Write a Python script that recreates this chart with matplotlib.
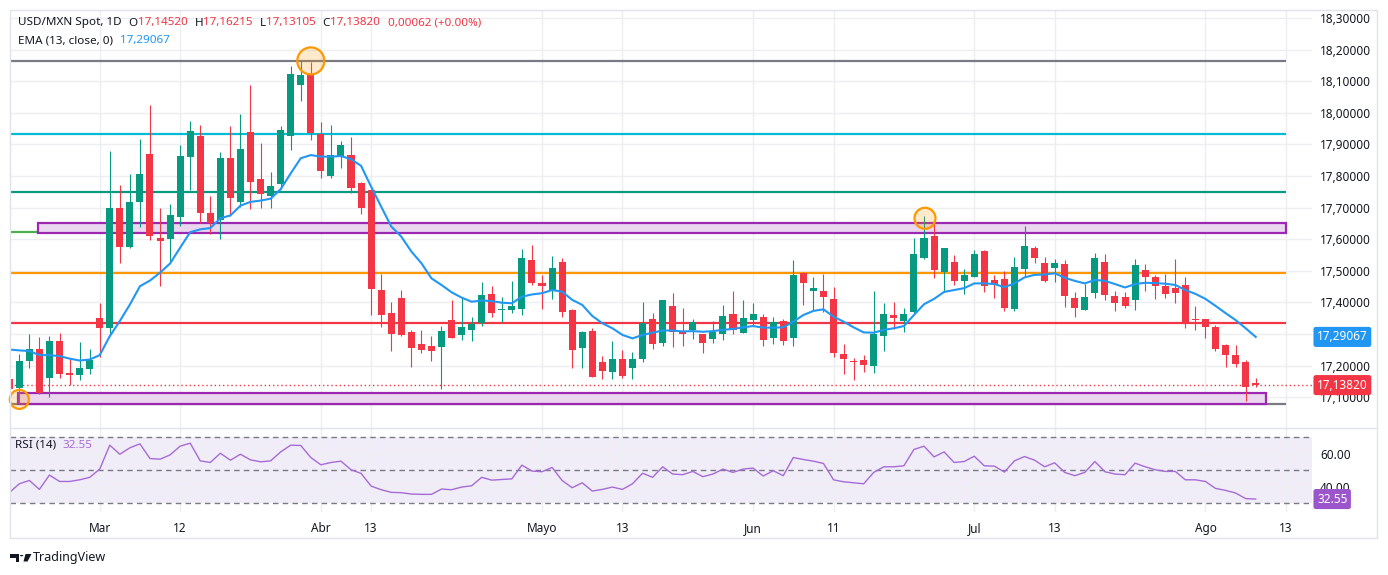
import numpy as np
import matplotlib
matplotlib.use("Agg")
import matplotlib.pyplot as plt
import matplotlib.transforms as mtrans
from matplotlib.ticker import FuncFormatter
from matplotlib.patches import Rectangle, Polygon, Circle
from matplotlib.lines import Line2D

plt.rcParams['font.family'] = ['Noto Sans', 'DejaVu Sans']

# daily candles USD/MXN
opens = [17.158, 17.128, 17.214, 17.254, 17.160, 17.279, 17.175, 17.170, 17.190, 17.349,
         17.319, 17.697, 17.575, 17.717, 17.868, 17.605, 17.600, 17.670, 17.860, 17.925,
         17.684, 17.661, 17.857, 17.718, 17.939, 17.790, 17.735, 17.775, 17.927, 18.088,
         18.120, 17.933, 17.800, 17.863, 17.866, 17.778, 17.756, 17.439, 17.365, 17.414,
         17.306, 17.268, 17.262, 17.260, 17.344, 17.298, 17.311, 17.336, 17.427, 17.377,
         17.376, 17.380, 17.534, 17.461, 17.436, 17.528, 17.376, 17.257, 17.309, 17.211,
         17.181, 17.221, 17.193, 17.222, 17.347, 17.273, 17.389, 17.309, 17.311, 17.301,
         17.285, 17.301, 17.363, 17.304, 17.344, 17.354, 17.288, 17.341, 17.288, 17.493,
         17.437, 17.436, 17.411, 17.237, 17.216, 17.218, 17.200, 17.295, 17.360, 17.342,
         17.368, 17.541, 17.610, 17.496, 17.528, 17.468, 17.480, 17.563, 17.471, 17.474,
         17.379, 17.506, 17.572, 17.525, 17.509, 17.522, 17.414, 17.377, 17.431, 17.528,
         17.420, 17.417, 17.409, 17.503, 17.480, 17.453, 17.446, 17.455, 17.347, 17.347,
         17.322, 17.265, 17.234, 17.211, 17.14520]
highs = [17.160, 17.238, 17.299, 17.290, 17.292, 17.302, 17.221, 17.276, 17.251, 17.399,
         17.878, 17.772, 17.807, 17.918, 18.026, 17.697, 17.710, 17.897, 17.973, 17.961,
         17.738, 17.876, 17.958, 17.996, 18.088, 17.904, 17.813, 17.958, 18.148, 18.164,
         18.162, 17.971, 17.961, 17.911, 17.923, 17.780, 17.758, 17.490, 17.401, 17.439,
         17.313, 17.313, 17.294, 17.324, 17.408, 17.413, 17.354, 17.465, 17.452, 17.417,
         17.468, 17.569, 17.582, 17.485, 17.547, 17.541, 17.379, 17.309, 17.319, 17.230,
         17.278, 17.249, 17.243, 17.401, 17.366, 17.408, 17.430, 17.382, 17.347, 17.301,
         17.341, 17.392, 17.436, 17.408, 17.398, 17.363, 17.354, 17.347, 17.534, 17.496,
         17.480, 17.490, 17.449, 17.268, 17.224, 17.234, 17.437, 17.398, 17.401, 17.382,
         17.604, 17.673, 17.654, 17.572, 17.550, 17.506, 17.566, 17.566, 17.487, 17.499,
         17.544, 17.642, 17.579, 17.544, 17.537, 17.534, 17.433, 17.458, 17.556, 17.553,
         17.436, 17.433, 17.537, 17.522, 17.487, 17.490, 17.537, 17.480, 17.389, 17.347,
         17.328, 17.269, 17.265, 17.218, 17.16215]
lows = [17.124, 17.082, 17.193, 17.109, 17.101, 17.160, 17.138, 17.154, 17.172, 17.228,
        17.293, 17.525, 17.571, 17.639, 17.597, 17.451, 17.525, 17.641, 17.755, 17.652,
        17.615, 17.601, 17.673, 17.703, 17.694, 17.700, 17.697, 17.758, 17.882, 18.037,
        17.914, 17.795, 17.795, 17.826, 17.747, 17.681, 17.359, 17.323, 17.247, 17.292,
        17.197, 17.241, 17.216, 17.125, 17.286, 17.281, 17.278, 17.325, 17.353, 17.339,
        17.367, 17.361, 17.455, 17.379, 17.411, 17.355, 17.193, 17.193, 17.165, 17.159,
        17.159, 17.162, 17.159, 17.212, 17.254, 17.263, 17.260, 17.263, 17.285, 17.241,
        17.273, 17.282, 17.301, 17.304, 17.328, 17.263, 17.269, 17.266, 17.263, 17.393,
        17.374, 17.371, 17.228, 17.174, 17.154, 17.180, 17.178, 17.246, 17.317, 17.307,
        17.365, 17.537, 17.477, 17.433, 17.455, 17.428, 17.480, 17.433, 17.414, 17.373,
        17.373, 17.484, 17.525, 17.465, 17.465, 17.385, 17.355, 17.377, 17.415, 17.406,
        17.374, 17.383, 17.377, 17.437, 17.412, 17.415, 17.399, 17.320, 17.311, 17.288,
        17.247, 17.197, 17.197, 17.089, 17.13105]
closes = [17.126, 17.216, 17.254, 17.114, 17.279, 17.172, 17.170, 17.191, 17.219, 17.319,
          17.697, 17.575, 17.718, 17.805, 17.610, 17.594, 17.677, 17.862, 17.941, 17.684,
          17.652, 17.857, 17.731, 17.885, 17.782, 17.742, 17.768, 17.946, 18.123, 18.120,
          17.936, 17.817, 17.866, 17.898, 17.763, 17.697, 17.441, 17.361, 17.299, 17.297,
          17.257, 17.249, 17.247, 17.309, 17.288, 17.322, 17.333, 17.423, 17.367, 17.379,
          17.389, 17.541, 17.461, 17.453, 17.509, 17.370, 17.249, 17.306, 17.165, 17.184,
          17.221, 17.167, 17.221, 17.335, 17.269, 17.408, 17.307, 17.301, 17.338, 17.273,
          17.307, 17.357, 17.313, 17.351, 17.363, 17.282, 17.338, 17.279, 17.487, 17.462,
          17.446, 17.418, 17.241, 17.222, 17.212, 17.203, 17.300, 17.363, 17.352, 17.363,
          17.553, 17.604, 17.503, 17.572, 17.468, 17.487, 17.553, 17.452, 17.459, 17.382,
          17.512, 17.579, 17.541, 17.468, 17.525, 17.420, 17.383, 17.417, 17.541, 17.424,
          17.399, 17.390, 17.518, 17.481, 17.453, 17.428, 17.431, 17.336, 17.344, 17.323,
          17.254, 17.232, 17.206, 17.133, 17.13820]
ema13 = [17.251, 17.248, 17.246, 17.233, 17.233, 17.230, 17.222, 17.216, 17.219, 17.233,
         17.293, 17.341, 17.393, 17.451, 17.469, 17.494, 17.523, 17.573, 17.622, 17.631,
         17.635, 17.666, 17.675, 17.706, 17.718, 17.722, 17.728, 17.758, 17.808, 17.856,
         17.866, 17.861, 17.861, 17.863, 17.853, 17.832, 17.766, 17.703, 17.640, 17.608,
         17.561, 17.524, 17.476, 17.455, 17.432, 17.415, 17.402, 17.406, 17.404, 17.399,
         17.397, 17.418, 17.425, 17.429, 17.439, 17.434, 17.408, 17.392, 17.357, 17.334,
         17.318, 17.297, 17.286, 17.297, 17.304, 17.311, 17.311, 17.308, 17.309, 17.307,
         17.309, 17.313, 17.316, 17.321, 17.325, 17.320, 17.320, 17.321, 17.339, 17.360,
         17.373, 17.378, 17.355, 17.339, 17.321, 17.305, 17.304, 17.313, 17.318, 17.325,
         17.360, 17.394, 17.411, 17.433, 17.439, 17.445, 17.460, 17.460, 17.458, 17.448,
         17.460, 17.479, 17.487, 17.488, 17.492, 17.478, 17.468, 17.460, 17.471, 17.468,
         17.458, 17.447, 17.458, 17.462, 17.461, 17.459, 17.455, 17.439, 17.427, 17.411,
         17.389, 17.366, 17.344, 17.318, 17.29067]
rsi14 = [36.4, 41.8, 43.8, 38.4, 47.1, 43.2, 43.2, 44.2, 45.7, 50.7,
         65.2, 59.7, 63.6, 66.0, 57.1, 56.7, 59.3, 64.6, 66.4, 55.7,
         54.7, 60.3, 56.1, 59.7, 56.3, 55.1, 55.7, 61.1, 65.2, 65.0,
         57.7, 53.3, 54.7, 55.5, 50.3, 48.1, 40.4, 38.2, 36.6, 36.4,
         35.6, 35.4, 35.4, 38.6, 38.2, 39.8, 40.6, 45.7, 44.0, 44.4,
         44.8, 53.1, 49.5, 49.1, 51.7, 43.8, 39.4, 42.4, 37.4, 38.4,
         39.8, 38.4, 41.8, 48.2, 45.7, 52.1, 47.7, 47.3, 49.3, 46.1,
         47.7, 50.7, 48.7, 50.7, 51.3, 46.5, 49.7, 46.7, 57.7, 56.5,
         55.5, 54.1, 44.2, 43.0, 42.4, 41.8, 48.7, 52.1, 52.1, 52.7,
         62.6, 64.6, 58.1, 61.1, 54.7, 55.3, 58.5, 52.7, 52.5, 48.9,
         55.7, 58.3, 56.1, 52.1, 54.5, 48.7, 46.7, 48.7, 55.3, 49.1,
         47.7, 47.3, 54.3, 52.1, 50.3, 49.3, 49.3, 44.2, 44.2, 43.2,
         39.0, 37.8, 36.2, 32.8, 32.55]

tick_pos = [9, 17, 31, 36, 53, 61, 74, 82, 96, 104, 119, 127]
tick_lab = ["Mar", "12", "Abr", "13", "Mayo", "13", "Jun", "11", "Jul", "13", "Ago", "13"]
months = ["Mar", "Abr", "Mayo", "Jun", "Jul", "Ago"]

# drawn levels / zones / marks
levels = [18.165, 17.934, 17.750, 17.494, 17.336]
level_cols = ["#787b86", "#00bcd4", "#089981", "#ff9800", "#f23645"]
zones = [(2.9, 127.0, 17.620, 17.650), (0.9, 125.0, 17.079, 17.114)]
marks_x = [30.0, 91.1, 1.0]
marks_y = [18.164, 17.666, 17.093]
marks_d = [27, 21, 19]

GREEN = "#089981"
RED = "#f23645"
BLUE = "#2196f3"
PURP = "#a66bd6"
TXT = "#131722"
GRID = "#eceef2"

W, H = 1388, 575
fig = plt.figure(figsize=(W / 100, H / 100), dpi=100)
fig.patch.set_facecolor("white")


def px_axes(l, t, r, b):
    return fig.add_axes([l / W, 1 - b / H, (r - l) / W, (b - t) / H])


def fx(x):
    return x / W


def fy(y):
    return 1 - y / H


ax = px_axes(10, 10, 1312, 428)
ax2 = px_axes(10, 428, 1312, 512)
xlim = (0.075, 129.6)

n = len(closes)
x = np.arange(n)
o = np.array(opens)
c = np.array(closes)
col = np.where(c >= o, GREEN, RED)

# levels and zones
for lv, lc in zip(levels, level_cols):
    ax.hlines(lv, xlim[0], 127.0, color=lc, lw=1.6, zorder=2)
ax.hlines(17.624, xlim[0], 127.0, color="#4caf50", lw=1.6, zorder=2)
ax.hlines(17.079, xlim[0], 127.0, color="#787b86", lw=1.6, zorder=2)
for x0, x1, y0, y1 in zones:
    ax.add_patch(Rectangle((x0, y0), x1 - x0, y1 - y0, fc="#ead6ef", ec="#9c27b0", lw=1.6, zorder=2.2))

ax.hlines(closes[-1], xlim[0], xlim[1], color=RED, lw=1, linestyles=(0, (1, 2)), zorder=2.3)

# candles
ax.vlines(x, lows, highs, colors=col, lw=0.8, zorder=3)
ax.bar(x, np.maximum(np.abs(c - o), 0.003), bottom=np.minimum(o, c), width=0.7,
       color=col, linewidth=0, zorder=3.1)

ax.plot(x, ema13, color=BLUE, lw=1.5, zorder=3.5)

ax.scatter(marks_x, marks_y, s=[(d * 0.72) ** 2 for d in marks_d], facecolor=(1, 0.6, 0, 0.2),
           edgecolor="#ff9800", lw=1.6, zorder=4, clip_on=False)

ax.set_xlim(*xlim)
ax.set_ylim(17.0025, 18.325)
ax.yaxis.tick_right()
ax.set_yticks(np.arange(17.1, 18.31, 0.1))
ax.yaxis.set_major_formatter(FuncFormatter(lambda v, p: f"{v:.5f}".replace(".", ",")))
ax.tick_params(axis="y", length=0, pad=5.8, labelsize=8.5, labelcolor=TXT)
ax.set_xticks(tick_pos)
ax.tick_params(axis="x", length=0, labelbottom=False)
ax.grid(True, color=GRID, lw=1, zorder=0)
ax.set_axisbelow(True)
for s in ax.spines.values():
    s.set_visible(False)

# last value tags on price scale
tr = mtrans.blended_transform_factory(ax.transAxes, ax.transData)
xt = (1317 - 10) / 1302
ax.text(xt, ema13[-1], f"{ema13[-1]:.5f}".replace(".", ","), transform=tr, color="white", fontsize=8.5,
        va="center", ha="left", zorder=10, clip_on=False,
        bbox=dict(boxstyle="round,pad=0.3,rounding_size=0.2", fc=BLUE, ec="none"))
ax.text(xt, closes[-1], f"{closes[-1]:.5f}".replace(".", ","), transform=tr, color="white", fontsize=8.5,
        va="center", ha="left", zorder=10, clip_on=False,
        bbox=dict(boxstyle="round,pad=0.3,rounding_size=0.2", fc=RED, ec="none"))

# RSI pane
ax2.axhspan(30, 70, color="#7e57c2", alpha=0.1, lw=0, zorder=0.5)
for lv in [70, 50, 30]:
    ax2.axhline(lv, color="#787b86", lw=1, ls=(0, (4, 3)), zorder=1)
ax2.plot(x, rsi14, color=PURP, lw=1, zorder=3)
ax2.set_xlim(*xlim)
ax2.set_ylim(24.7, 75.6)
ax2.yaxis.tick_right()
ax2.set_yticks([40, 60])
ax2.set_yticklabels(["40.00", "60.00"])
ax2.tick_params(axis="y", length=0, pad=5.8, labelsize=8.5, labelcolor=TXT)
ax2.set_xticks(tick_pos)
ax2.set_xticklabels(tick_lab)
ax2.tick_params(axis="x", length=0, pad=7, labelsize=8.5, labelcolor=TXT)
for lbl in ax2.get_xticklabels():
    if lbl.get_text() in months:
        lbl.set_fontweight("bold")
ax2.grid(True, color=GRID, lw=1, zorder=0)
ax2.set_axisbelow(True)
for s in ax2.spines.values():
    s.set_visible(False)
tr2 = mtrans.blended_transform_factory(ax2.transAxes, ax2.transData)
ax2.text(xt, rsi14[-1], f"{rsi14[-1]:.2f}", transform=tr2, color="white", fontsize=8.5,
         va="center", ha="left", zorder=10, clip_on=False,
         bbox=dict(boxstyle="round,pad=0.3,rounding_size=0.2", fc="#9c56cc", ec="none"))

# header legends, pieces put one after another
rend = fig.canvas.get_renderer()


def chain(pieces, x0, y, fs=8.4):
    xx = x0
    for s, colr, gap in pieces:
        t = fig.text(fx(xx), fy(y), s, color=colr, fontsize=fs, va="center")
        xx += t.get_window_extent(renderer=rend).width + gap


chain([("USD/MXN Spot, 1D", TXT, 7), ("O", TXT, 0), ("17,14520", RED, 7),
       ("H", TXT, 0), ("17,16215", RED, 7), ("L", TXT, 0), ("17,13105", RED, 7),
       ("C", TXT, 0), ("17,13820", RED, 8), ("0,00062 (+0.00%)", RED, 0)], 18, 23)
chain([("EMA (13, close, 0)", TXT, 7), ("17,29067", BLUE, 0)], 18, 41)
chain([("RSI (14)", TXT, 6), ("32.55", PURP, 0)], 15, 445)

# frame
fig.add_artist(Rectangle((fx(10), fy(538)), (1377 - 10) / W, (538 - 10) / H, transform=fig.transFigure,
                         fill=False, ec="#e0e3eb", lw=1))
fig.add_artist(Line2D([fx(10), fx(1377)], [fy(428), fy(428)], transform=fig.transFigure, color="#e0e3eb", lw=1))

# TradingView mark
fig.add_artist(Polygon([(fx(10), fy(554)), (fx(19), fy(554)), (fx(19), fy(561.5)), (fx(15.5), fy(561.5)),
                        (fx(15.5), fy(557.5)), (fx(10), fy(557.5))], transform=fig.transFigure,
                       fc=TXT, ec="none"))
fig.add_artist(Circle((fx(21.6), fy(555.6)), 1.7 / W, transform=fig.transFigure, fc=TXT, ec="none"))
fig.add_artist(Polygon([(fx(25.5), fy(554)), (fx(31.5), fy(554)), (fx(27.5), fy(561.5)), (fx(23.5), fy(561.5))],
                       transform=fig.transFigure, fc=TXT, ec="none"))
fig.text(fx(33), fy(557.5), "TradingView", color=TXT, fontsize=9, va="center")

fig.savefig("out.png", dpi=100, facecolor="white")
